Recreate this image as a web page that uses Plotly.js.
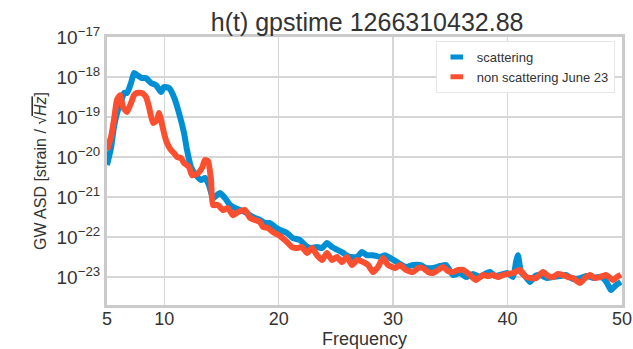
<!DOCTYPE html>
<html>
<head>
<meta charset="utf-8">
<script src="https://cdn.plot.ly/plotly-3.0.1.min.js"></script>
<style>html,body{margin:0;padding:0;background:#fff}#chart{width:633px;height:349px}</style>
</head>
<body>
<div id="chart"></div>
<script>
const scatFreq = [5.0,5.35,5.61,5.96,6.22,6.49,6.75,7.10,7.36,7.62,8.06,8.41,8.84,9.28,9.72,9.98,10.42,10.85,11.29,11.73,11.99,12.34,12.78,13.21,13.56,13.91,14.26,14.87,15.31,15.75,16.19,16.62,17.06,17.50,17.93,18.37,18.81,19.24,19.68,20.12,20.73,21.25,21.86,22.30,22.74,23.35,23.79,24.22,24.66,25.18,25.62,26.23,26.85,27.28,27.72,28.24,28.86,29.29,29.73,30.34,31.13,31.74,32.35,32.88,33.49,34.10,34.62,35.24,35.85,36.37,36.98,37.59,38.03,38.47,38.90,39.34,39.95,40.48,40.74,40.91,41.18,41.53,41.96,42.40,42.84,43.45,43.97,44.59,45.11,45.72,46.33,46.94,47.47,47.91,48.34,48.69,49.04,49.48,49.91];
const scatASD = [6.3e-21,1.68e-20,5.6e-20,1.5e-19,2.24e-19,4.0e-19,4.0e-19,7.1e-19,1.26e-18,1.12e-18,9.4e-19,9.4e-19,7.1e-19,6.3e-19,4.2e-19,5.6e-19,5.3e-19,3.16e-19,1.26e-19,4.0e-20,1.5e-20,5.6e-21,3.5e-21,2.66e-21,3.0e-21,2.0e-21,9.4e-22,1.26e-21,9.4e-22,6.3e-22,5.3e-22,4.7e-22,4.2e-22,3.5e-22,3.0e-22,2.66e-22,2.24e-22,2.24e-22,1.78e-22,1.5e-22,1.26e-22,9.4e-23,8.4e-23,6.3e-23,5.3e-23,5.6e-23,5.3e-23,7.1e-23,5.6e-23,4.7e-23,4.0e-23,3.16e-23,3.16e-23,4.2e-23,3.5e-23,3.5e-23,3.16e-23,3.5e-23,3.0e-23,2.37e-23,1.78e-23,2.0e-23,2.0e-23,1.68e-23,1.68e-23,1.88e-23,2.0e-23,1.12e-23,1.26e-23,1.0e-23,1.19e-23,1.0e-23,1.19e-23,1.33e-23,1.06e-23,1.12e-23,1.26e-23,1.0e-23,2.37e-23,3.5e-23,1.33e-23,1.06e-23,7.5e-24,1.06e-23,1.12e-23,9.4e-24,1.0e-23,1.06e-23,1.12e-23,8.9e-24,9.4e-24,1.06e-23,9.4e-24,1.0e-23,9.4e-24,7.1e-24,4.7e-24,6.3e-24,7.5e-24];

const nonScatFreq = [5.0,5.35,5.61,5.87,6.14,6.40,6.75,7.10,7.36,7.62,8.06,8.41,8.67,9.02,9.37,9.54,9.72,9.98,10.24,10.59,10.85,11.12,11.47,11.73,12.17,12.43,12.86,13.30,13.56,13.83,14.09,14.26,14.70,15.14,15.57,16.01,16.45,17.06,17.50,17.93,18.37,18.63,19.07,19.51,20.12,20.73,21.17,21.60,22.04,22.48,22.91,23.35,23.79,24.22,24.66,25.10,25.53,25.97,26.41,26.85,27.37,27.81,28.24,28.68,29.12,29.55,30.17,30.60,31.13,31.74,32.18,32.61,33.05,33.49,33.92,34.36,34.80,35.24,35.67,36.11,36.72,37.25,37.86,38.29,38.73,39.17,39.60,40.04,40.48,40.83,41.09,41.61,42.05,42.49,43.10,43.54,43.97,44.41,44.85,45.28,45.72,46.33,46.77,47.21,47.64,48.08,48.60,49.22,49.56,49.91];
const nonScatASD = [1.5e-20,3.16e-20,8.4e-20,2.66e-19,3.5e-19,1.78e-19,1.33e-19,2.24e-19,3.5e-19,4.0e-19,4.0e-19,3.16e-19,1.78e-19,7.1e-20,8.4e-20,1.26e-19,8.4e-20,4.0e-20,2.24e-20,1.5e-20,1.26e-20,1.0e-20,9.4e-21,7.1e-21,5.6e-21,3.5e-21,3.76e-21,5.3e-21,8.4e-21,7.9e-21,2.66e-21,6.3e-22,6.3e-22,4.7e-22,5.3e-22,3.5e-22,4.2e-22,4.7e-22,3.0e-22,2.66e-22,2.37e-22,1.78e-22,1.68e-22,1.33e-22,1.06e-22,7.5e-23,5.6e-23,5.3e-23,5.6e-23,4.0e-23,5.3e-23,3.5e-23,2.66e-23,4.0e-23,2.66e-23,3.16e-23,2.37e-23,3.16e-23,2.0e-23,2.66e-23,2.37e-23,2.0e-23,1.33e-23,1.78e-23,3.0e-23,2.0e-23,1.68e-23,2.0e-23,1.5e-23,1.33e-23,1.68e-23,1.68e-23,1.33e-23,1.26e-23,1.5e-23,1.78e-23,1.41e-23,1.33e-23,1.5e-23,1.5e-23,1.12e-23,8.4e-24,1.12e-23,1.06e-23,1.12e-23,1.0e-23,1.12e-23,1.19e-23,1.26e-23,1.41e-23,1.5e-23,1.0e-23,9.4e-24,9.4e-24,1.33e-23,1.06e-23,1.0e-23,1.19e-23,1.12e-23,1.0e-23,9.4e-24,7.1e-24,9.4e-24,1.12e-23,9.4e-24,1.0e-23,1.12e-23,8.4e-24,1.0e-23,1.12e-23];

const xTickVals = [5, 10, 20, 30, 40, 50];
const yTickExps = [-23, -22, -21, -20, -19, -18, -17];
const seriesNames = ['scattering', 'non scattering June 23'];
const seriesColors = ['#008fd5', '#fc4f30'];

const yTickVals = yTickExps.map(e => Math.pow(10, e));
const yTickText = yTickExps.map(e => '10<sup>\u2212' + Math.abs(e) + '</sup>');

const lineStyle = (c) => ({color: c, width: 6, shape: 'spline', smoothing: 0.5});
const legendMarker = (c) => ({symbol: 'line-ew-open', size: 9, color: c, line: {color: c, width: 7}});

const traces = [
  {x: scatFreq, y: scatASD, name: seriesNames[0], mode: 'lines', type: 'scatter',
   line: lineStyle(seriesColors[0]), showlegend: false},
  {x: nonScatFreq, y: nonScatASD, name: seriesNames[1], mode: 'lines', type: 'scatter',
   line: lineStyle(seriesColors[1]), showlegend: false},
  // legend entries (no data points of their own)
  {x: [null], y: [null], name: seriesNames[0], mode: 'markers', type: 'scatter',
   marker: legendMarker(seriesColors[0])},
  {x: [null], y: [null], name: seriesNames[1], mode: 'markers', type: 'scatter',
   marker: legendMarker(seriesColors[1])}
];

const layout = {
  width: 633, height: 349,
  margin: {l: 107, r: 11, t: 37, b: 44},
  paper_bgcolor: '#ffffff', plot_bgcolor: '#ffffff',
  font: {family: '"Liberation Sans", Arial, sans-serif', color: '#333333', size: 16},
  title: {text: 'h(t) gpstime 1266310432.88', font: {size: 25, color: '#333333'},
          x: 0.58, xanchor: 'center', y: 0.962, yanchor: 'top'},
  showlegend: true,
  legend: {x: 0.986, xanchor: 'right', y: 0.985, yanchor: 'top',
           bgcolor: '#ffffff', bordercolor: '#e6e6e6', borderwidth: 1,
           font: {size: 13, color: '#333333'}, tracegroupgap: 0, itemwidth: 30},
  xaxis: {range: [5, 50], tickvals: xTickVals, ticktext: xTickVals.map(String),
          showgrid: true, gridcolor: '#d6d6d6', gridwidth: 1.3,
          showline: true, mirror: true, linecolor: '#cbcbcb', linewidth: 3,
          zeroline: false, ticks: '', tickfont: {size: 18}, ticklabelstandoff: -5,
          title: {text: 'Frequency', font: {size: 18}, standoff: 0}},
  yaxis: {type: 'log', range: [-23.7, -17], tickvals: yTickVals, ticktext: yTickText,
          showgrid: true, gridcolor: '#d6d6d6', gridwidth: 1.3,
          showline: true, mirror: true, linecolor: '#cbcbcb', linewidth: 3,
          zeroline: false, ticks: '', tickfont: {size: 19},
          title: {text: 'GW ASD [strain / \u221A<span style="text-decoration:overline"><i>Hz</i></span>]', font: {size: 16}, standoff: 6}}
};

Plotly.newPlot('chart', traces, layout, {displayModeBar: false, staticPlot: true});
</script>
</body>
</html>
